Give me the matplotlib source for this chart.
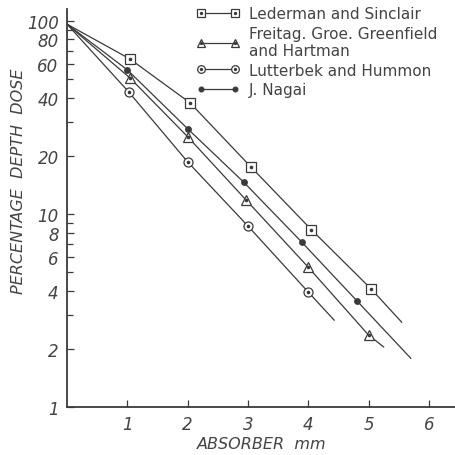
import matplotlib.pyplot as plt
from matplotlib.lines import Line2D
from matplotlib.legend_handler import HandlerTuple
from matplotlib.ticker import FixedLocator, NullFormatter

# data (x in mm, y in % depth dose)
lederman_x = [0, 1.04, 2.04, 3.05, 4.05, 5.04, 5.55]
lederman_y = [96, 63.5, 37.6, 17.5, 8.3, 4.1, 2.75]

freitag_x = [0, 1.04, 2.0, 2.97, 4.0, 5.0, 5.25]
freitag_y = [96, 50.7, 25.1, 11.8, 5.3, 2.36, 2.05]

lutterbek_x = [0, 1.02, 2.0, 3.0, 4.0, 4.43]
lutterbek_y = [96, 42.9, 18.6, 8.66, 3.94, 2.82]

nagai_x = [0, 1.0, 2.0, 2.93, 3.89, 4.81, 5.7]
nagai_y = [96, 55.7, 27.6, 14.6, 7.16, 3.54, 1.79]

labels = ['Lederman and Sinclair', 'Freitag. Groe. Greenfield\nand Hartman',
          'Lutterbek and Hummon', 'J. Nagai']

y_labels = [1, 2, 4, 6, 8, 10, 20, 40, 60, 80, 100]
y_minor = [3, 5, 7, 9, 30, 50, 70, 90]
x_labels = [1, 2, 3, 4, 5, 6]

INK = '#3a3a3a'
TXT = '#444444'
FONT = ['DejaVu Sans']

fig = plt.figure(figsize=(4.56, 4.56), dpi=100)
ax = fig.add_axes([0.147, 0.105, 0.853, 0.873])

series = [
    (lederman_x, lederman_y, 's', 'white'),
    (freitag_x, freitag_y, '^', 'white'),
    (lutterbek_x, lutterbek_y, 'o', 'white'),
    (nagai_x, nagai_y, 'o', INK),
]
handles = []
for xs, ys, mk, face in series:
    n = len(xs)
    idx = list(range(1, n - 1))
    ms = 6.5 if face == 'white' else 4
    ax.plot(xs, ys, color=INK, lw=0.9)
    ax.plot([xs[i] for i in idx], [ys[i] for i in idx], ls='none', marker=mk,
            ms=ms, mfc=face, mec=INK, mew=0.9)
    parts = [Line2D([], [], color=INK, lw=0.9, marker=mk, ms=ms * 0.85,
                    mfc=face, mec=INK, mew=0.9)]
    if face == 'white':
        ax.plot([xs[i] for i in idx], [ys[i] for i in idx], ls='none',
                marker='o', ms=1.6, color=INK)
        parts.append(Line2D([], [], ls='none', marker='o', ms=1.4, color=INK))
    handles.append(tuple(parts))

ax.set_yscale('log')
ax.set_xlim(0, 6.45)
ax.set_ylim(1, 115)
ax.yaxis.set_major_locator(FixedLocator(y_labels))
ax.yaxis.set_minor_locator(FixedLocator(y_minor))
ax.yaxis.set_minor_formatter(NullFormatter())
ax.set_yticklabels([str(v) for v in y_labels])
ax.set_xticks(x_labels)
ax.set_xticklabels([str(v) for v in x_labels])

for s in ['top', 'right']:
    ax.spines[s].set_visible(False)
for s in ['left', 'bottom']:
    ax.spines[s].set_color(INK)
    ax.spines[s].set_linewidth(1.3)

ax.tick_params(axis='both', which='both', direction='in', colors=INK,
               labelcolor=TXT, width=0.9)
ax.tick_params(which='major', length=5, labelsize=12, pad=6)
ax.tick_params(which='minor', length=4)
for t in ax.get_xticklabels() + ax.get_yticklabels():
    t.set_fontstyle('italic')
    t.set_family(FONT)

ax.set_xlabel('ABSORBER  mm', fontsize=11.5, color=TXT, family=FONT,
              fontstyle='italic', labelpad=2)
ax.set_ylabel('PERCENTAGE  DEPTH  DOSE', fontsize=11.5, color=TXT,
              family=FONT, fontstyle='italic')
ax.yaxis.set_label_coords(-0.105, 0.57)

leg = ax.legend(handles, labels, numpoints=2, frameon=False,
                handler_map={tuple: HandlerTuple(ndivide=1)},
                loc='upper left', bbox_to_anchor=(0.31, 1.03),
                handlelength=2.8, handletextpad=0.6, labelspacing=0.3,
                borderaxespad=0.2, prop={'family': FONT, 'size': 11})
for t in leg.get_texts():
    t.set_color(TXT)
    t.set_linespacing(1.2)

fig.savefig('out.png', dpi=100, facecolor='white')
